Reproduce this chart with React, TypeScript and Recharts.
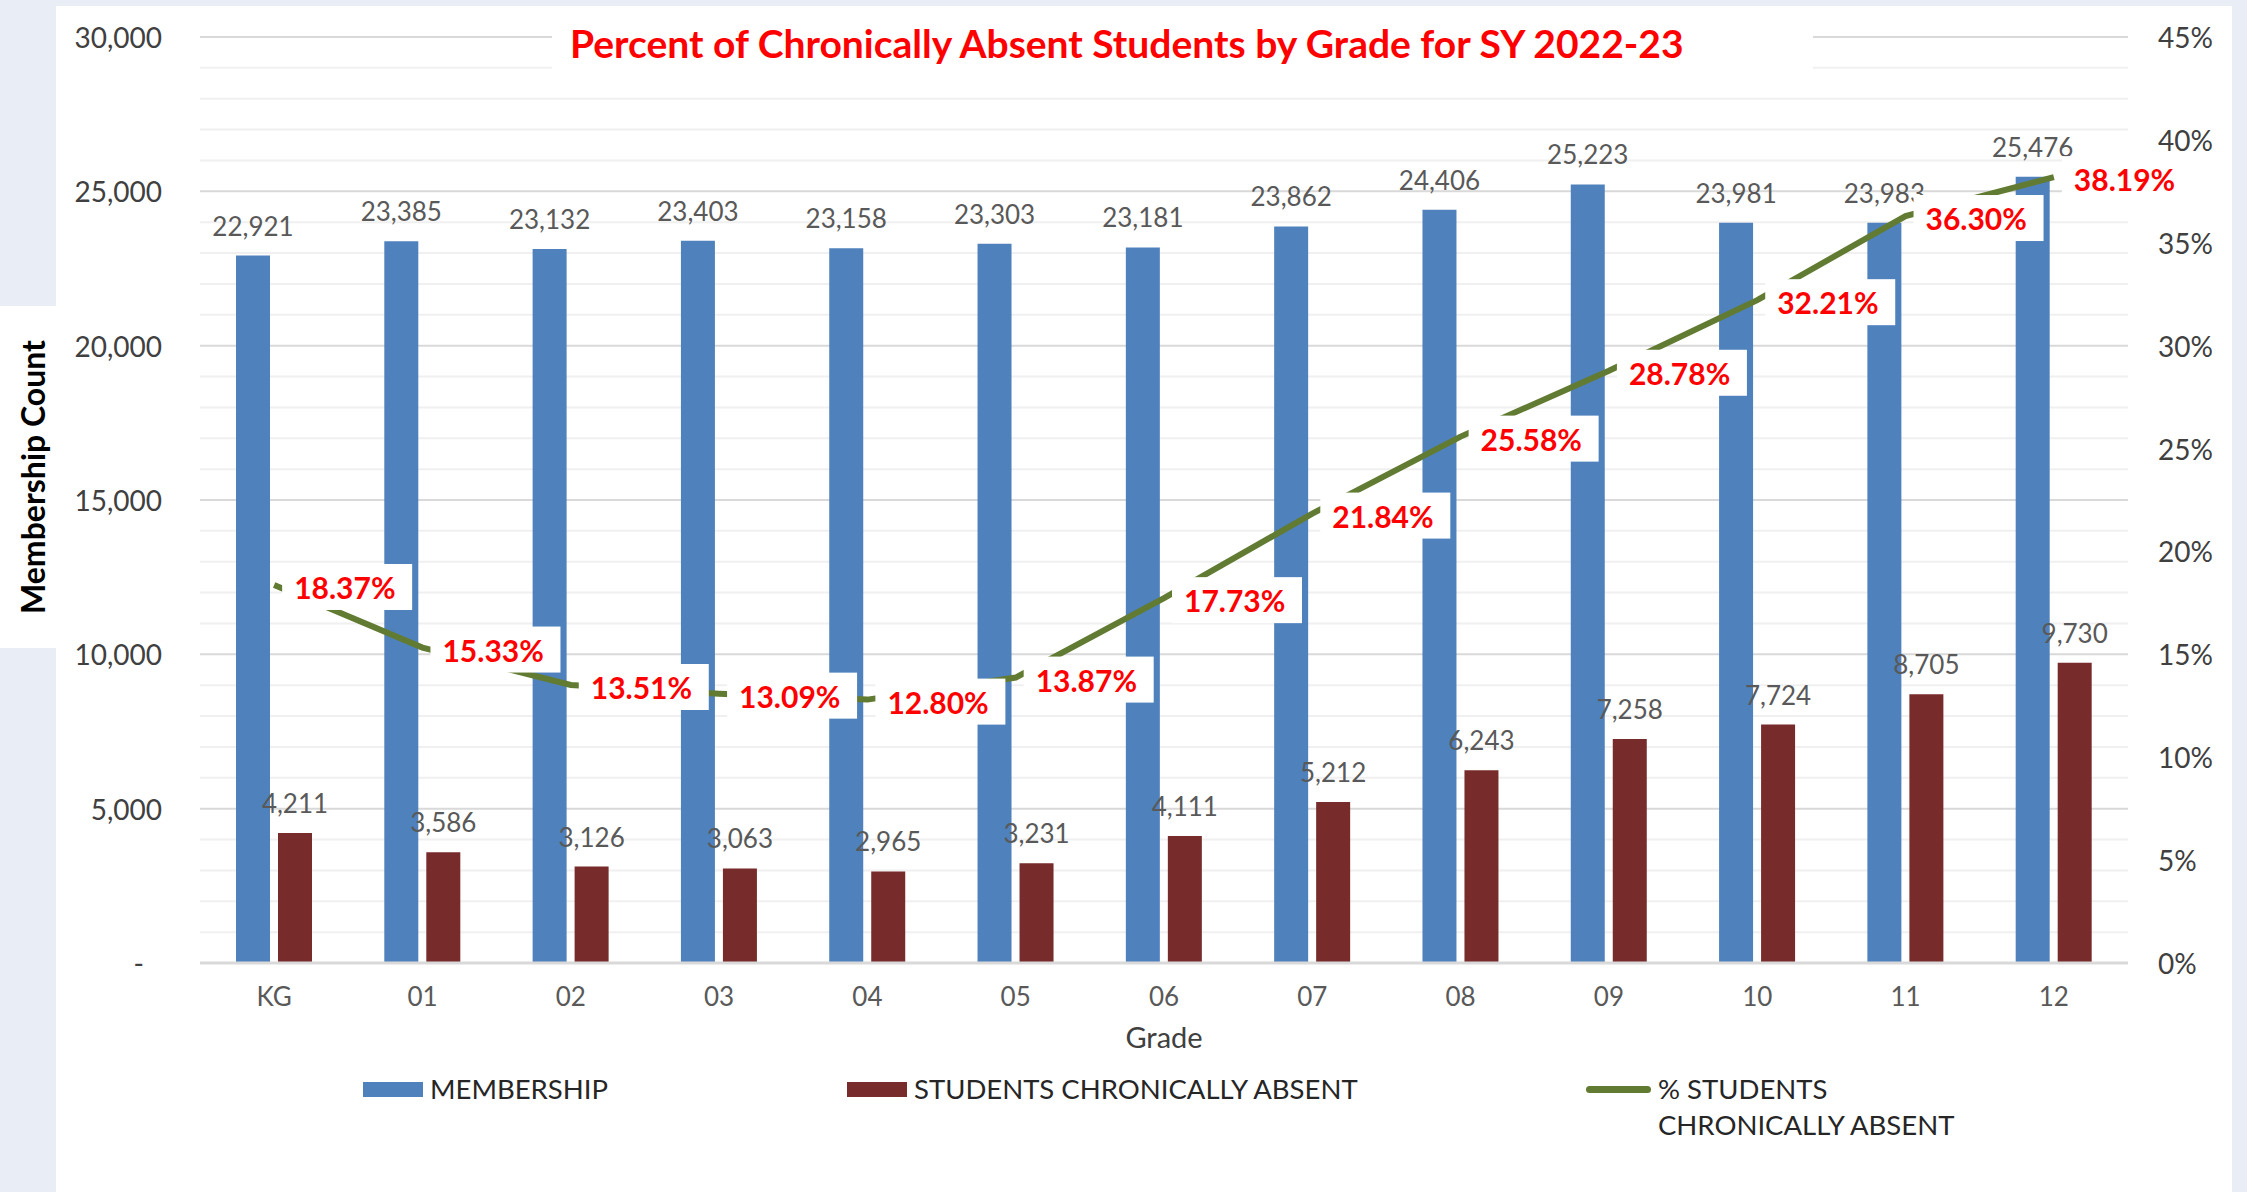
import React from 'react';
import { ComposedChart, Bar, Line, XAxis, YAxis, CartesianGrid, LabelList } from 'recharts';

const GRADES = ['KG', '01', '02', '03', '04', '05', '06', '07', '08', '09', '10', '11', '12'];
const MEMBERSHIP = [22921, 23385, 23132, 23403, 23158, 23303, 23181, 23862, 24406, 25223, 23981, 23983, 25476];
const ABSENT = [4211, 3586, 3126, 3063, 2965, 3231, 4111, 5212, 6243, 7258, 7724, 8705, 9730];
const PCT_ABSENT = [18.37, 15.33, 13.51, 13.09, 12.8, 13.87, 17.73, 21.84, 25.58, 28.78, 32.21, 36.3, 38.19];

const COUNT_TICKS = [0, 5000, 10000, 15000, 20000, 25000, 30000];
const PCT_TICKS = [0, 5, 10, 15, 20, 25, 30, 35, 40, 45];
const MINOR_STEP = 1000;

const TITLE = 'Percent of Chronically Absent Students by Grade for SY 2022-23';

const FONT = 'Lato, "Open Sans", sans-serif';
const BLUE = '#4F81BD';
const MAROON = '#772B2A';
const OLIVE = '#627B32';

const data = GRADES.map((g, i) => ({
  grade: g,
  membership: MEMBERSHIP[i],
  absent: ABSENT[i],
  pct: PCT_ABSENT[i],
}));

const minorLines: number[] = [];
for (let v = MINOR_STEP; v < 30000; v += MINOR_STEP) {
  if (v % 5000 !== 0) minorLines.push(v);
}

const LeftTick = (props: any) => {
  const { x, y, payload } = props;
  const v = payload.value as number;
  return (
    <text x={v === 0 ? x - 18 : x} y={y} textAnchor="end" dominantBaseline="central"
      fill="#404040" fontSize={28} fontFamily={FONT}>
      {v === 0 ? '-' : v.toLocaleString('en-US')}
    </text>
  );
};

const RightTick = (props: any) => {
  const { x, y, payload } = props;
  return (
    <text x={x} y={y} textAnchor="start" dominantBaseline="central"
      fill="#404040" fontSize={28} fontFamily={FONT}>
      {payload.value}%
    </text>
  );
};

const GradeTick = (props: any) => {
  const { x, y, payload } = props;
  return (
    <text x={x} y={y} textAnchor="middle" dominantBaseline="central"
      fill="#595959" fontSize={26} fontFamily={FONT}>
      {payload.value}
    </text>
  );
};

const PctLabel = (props: any) => {
  const { x, y, value } = props;
  if (x == null || y == null) return null;
  const tx = x + 20;
  const cy = y + 2;
  return (
    <g>
      <rect x={tx - 12} y={cy - 23} width={130} height={46} fill="#FFFFFF" />
      <text x={tx} y={cy} dominantBaseline="central" fill="#FF0000"
        fontSize={30} fontWeight={700} fontFamily={FONT}>
        {Number(value).toFixed(2)}%
      </text>
    </g>
  );
};

const countFmt = (v: any) => Number(v).toLocaleString('en-US');

export default function App() {
  return (
    <div style={{ position: 'absolute', left: 0, top: 0, width: 2247, height: 1192, background: '#E9EDF5', overflow: 'hidden' }}>
      <div style={{ position: 'absolute', left: 56, top: 6, width: 2176, height: 1186, background: '#FFFFFF' }} />
      <div style={{ position: 'absolute', left: 0, top: 306, width: 56, height: 342, background: '#FFFFFF' }} />

      <div style={{ position: 'absolute', left: 0, top: 0 }}>
        <ComposedChart width={2247} height={1192} data={data}
          margin={{ top: 37, right: 19, bottom: 129, left: 100 }}
          barSize={34} barGap={8}>
          <CartesianGrid yAxisId="count" vertical={false} horizontalValues={minorLines} stroke="#F0F0F0" strokeWidth={2} />
          <CartesianGrid yAxisId="count" vertical={false} horizontalValues={COUNT_TICKS} stroke="#D9D9D9" strokeWidth={2} />
          <XAxis dataKey="grade" tickLine={false} axisLine={{ stroke: '#D9D9D9', strokeWidth: 3 }}
            tickSize={0} tickMargin={33} tick={<GradeTick />} height={100}
            label={{ value: 'Grade', position: 'insideTop', offset: 64, fill: '#404040', fontSize: 29, fontFamily: FONT }} />
          <YAxis yAxisId="count" domain={[0, 30000]} ticks={COUNT_TICKS} interval={0}
            axisLine={false} tickLine={false} tickSize={0} tickMargin={38} width={100} tick={<LeftTick />} />
          <YAxis yAxisId="pct" orientation="right" domain={[0, 45]} ticks={PCT_TICKS} interval={0}
            axisLine={false} tickLine={false} tickSize={0} tickMargin={30} width={100} tick={<RightTick />} />
          <Bar yAxisId="count" dataKey="membership" fill={BLUE} isAnimationActive={false}>
            <LabelList dataKey="membership" position="top" offset={20} formatter={countFmt}
              fill="#595959" fontSize={26} fontFamily={FONT} />
          </Bar>
          <Bar yAxisId="count" dataKey="absent" fill={MAROON} isAnimationActive={false}>
            <LabelList dataKey="absent" position="top" offset={20} formatter={countFmt}
              fill="#595959" fontSize={26} fontFamily={FONT} />
          </Bar>
          <Line yAxisId="pct" dataKey="pct" type="linear" stroke={OLIVE} strokeWidth={6}
            dot={false} activeDot={false} isAnimationActive={false}>
            <LabelList dataKey="pct" content={<PctLabel />} />
          </Line>
        </ComposedChart>
      </div>

      <div style={{ position: 'absolute', left: 552, top: 6, width: 1261, height: 74, background: '#FFFFFF',
        boxSizing: 'border-box', paddingLeft: 18, display: 'flex', alignItems: 'center' }}>
        <span style={{ color: '#FF0000', fontFamily: FONT, fontWeight: 700, fontSize: 39, whiteSpace: 'nowrap' }}>{TITLE}</span>
      </div>

      <div style={{ position: 'absolute', left: 32, top: 477, transform: 'translate(-50%, -50%) rotate(-90deg)',
        whiteSpace: 'nowrap', fontFamily: FONT, fontWeight: 700, fontSize: 32, color: '#000000' }}>
        Membership Count
      </div>

      <div style={{ position: 'absolute', left: 0, top: 0, fontFamily: FONT, fontSize: 27.5, color: '#262626' }}>
        <div style={{ position: 'absolute', left: 363, top: 1082, width: 60, height: 15, background: BLUE }} />
        <div style={{ position: 'absolute', left: 430, top: 1071, lineHeight: '36px', whiteSpace: 'nowrap' }}>MEMBERSHIP</div>
        <div style={{ position: 'absolute', left: 847, top: 1082, width: 60, height: 15, background: MAROON }} />
        <div style={{ position: 'absolute', left: 914, top: 1071, lineHeight: '36px', whiteSpace: 'nowrap' }}>STUDENTS CHRONICALLY ABSENT</div>
        <div style={{ position: 'absolute', left: 1586, top: 1086, width: 65, height: 7, borderRadius: 4, background: OLIVE }} />
        <div style={{ position: 'absolute', left: 1658, top: 1071, lineHeight: '36px', whiteSpace: 'nowrap' }}>
          % STUDENTS<br />CHRONICALLY ABSENT
        </div>
      </div>
    </div>
  );
}
